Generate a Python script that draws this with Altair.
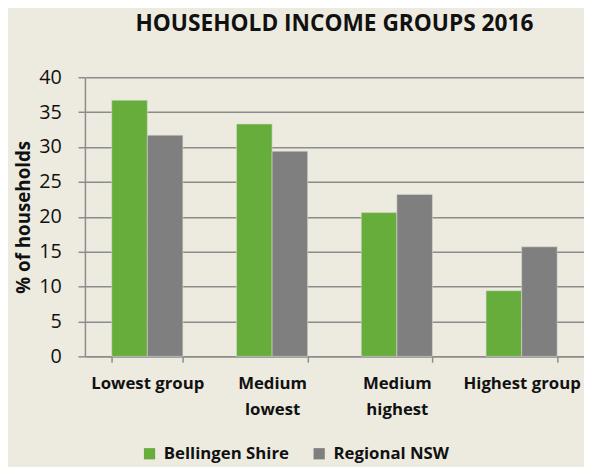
import altair as alt
import pandas as pd

categories = ["Lowest group", "Medium lowest", "Medium highest", "Highest group"]
series = ["Bellingen Shire", "Regional NSW"]
bellingen = [36.7, 33.3, 20.6, 9.4]
regional = [31.7, 29.4, 23.2, 15.7]

rows = []
for c, b, r in zip(categories, bellingen, regional):
    rows.append({"group": c, "area": series[0], "pct": b})
    rows.append({"group": c, "area": series[1], "pct": r})
df = pd.DataFrame(rows)

FONT = "Open Sans"
GRID = "#8c8c8c"
INK = "#111111"

chart = alt.Chart(df).mark_bar(stroke="#d8d8cc", strokeWidth=0.6).encode(
    x=alt.X("group:N", sort=categories, title=None,
            scale=alt.Scale(paddingInner=0.43, paddingOuter=0.215),
            axis=alt.Axis(labelAngle=0, labelFont=FONT, labelFontSize=17, labelFontWeight="bold",
                          labelColor=INK, labelPadding=14, labelLineHeight=26,
                          labelExpr="indexof(datum.label,'Medium')==0 ? split(datum.label,' ') : datum.label",
                          tickBand="extent", tickSize=6, tickColor=GRID, tickWidth=1.5,
                          domainColor=GRID, domainWidth=1.5, grid=False)),
    xOffset=alt.XOffset("area:N", sort=series, scale=alt.Scale(paddingInner=0, paddingOuter=0)),
    y=alt.Y("pct:Q", title="% of households",
            scale=alt.Scale(domain=[0, 40]),
            axis=alt.Axis(values=[0, 5, 10, 15, 20, 25, 30, 35, 40], labelFont=FONT, labelFontSize=20,
                          labelColor=INK, labelPadding=17, tickSize=7, tickColor=GRID, tickWidth=1.5,
                          domainColor=GRID, domainWidth=1.5, gridColor=GRID, gridWidth=1.5,
                          titleFont=FONT, titleFontSize=19, titleFontWeight="bold", titleColor=INK,
                          titlePadding=5)),
    color=alt.Color("area:N", sort=series,
                    scale=alt.Scale(domain=series, range=["#66ad3b", "#7f7f7f"]),
                    legend=alt.Legend(title=None, orient="none", direction="horizontal",
                                      legendX=57, legendY=373, symbolType="square", symbolSize=130,
                                      symbolStrokeWidth=0, labelFont=FONT, labelFontSize=17,
                                      labelFontWeight="bold", labelColor=INK, columnPadding=22,
                                      labelOffset=6)),
).properties(
    width=506,
    height=283,
    title=alt.TitleParams("HOUSEHOLD INCOME GROUPS 2016", font=FONT, fontSize=23, fontWeight="bold",
                          color=INK, anchor="middle", baseline="alphabetic", offset=14),
    background="#edebe0",
    padding={"left": 78, "top": 67, "right": 0, "bottom": 109},
    autosize=alt.AutoSizeParams(type="none"),
).configure_view(stroke=None)

chart.save("out.html", embed_options={"renderer": "svg", "actions": False})
